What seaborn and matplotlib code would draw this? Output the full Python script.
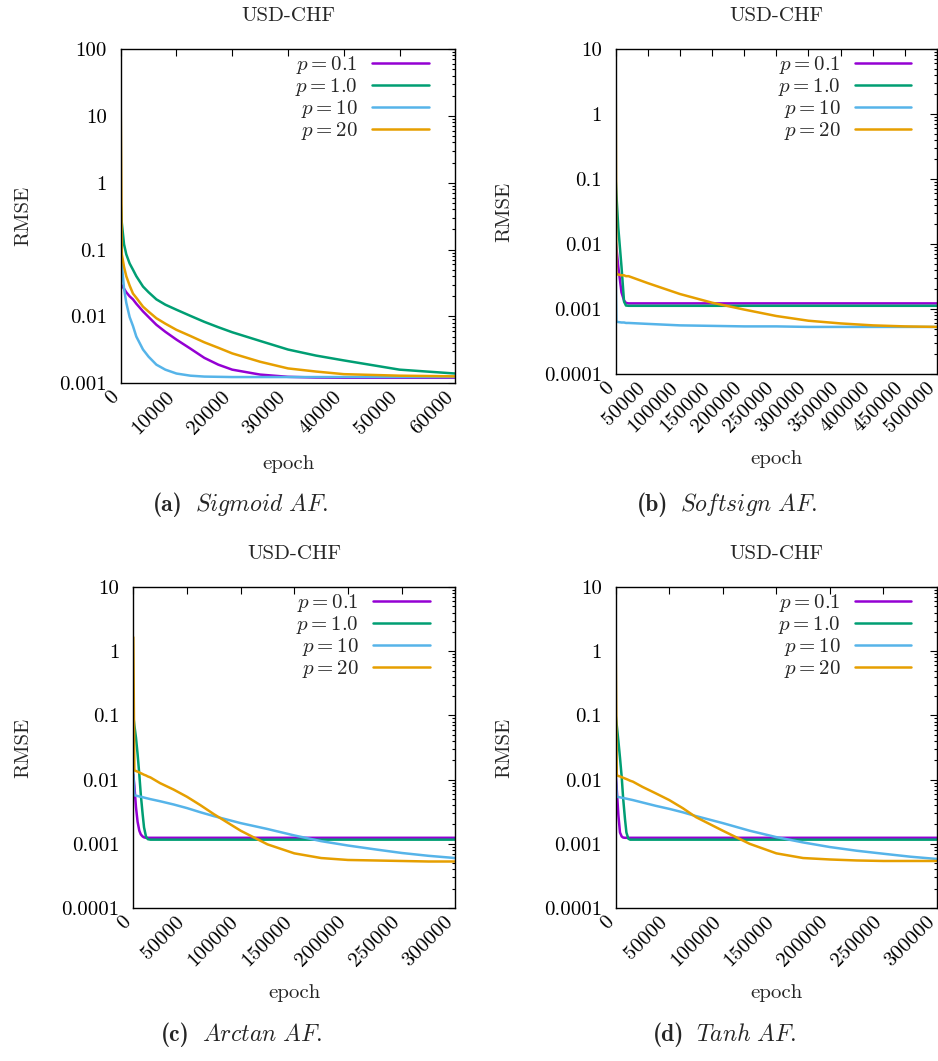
import numpy as np
import pandas as pd
import matplotlib
matplotlib.use('Agg')
import matplotlib.pyplot as plt
import matplotlib.transforms as mtransforms
import seaborn as sns
from matplotlib.ticker import LogLocator, NullFormatter

# legend labels and gnuplot colours
p_labels = [r'$p = 0.1$', r'$p = 1.0$', r'$p = 10$', r'$p = 20$']
colors = ['#9400D3', '#009E73', '#56B4E9', '#E69F00']

# (a) Sigmoid AF.
epochs_a = [0, 200, 600, 1000, 1600, 2200, 2800, 4000, 5000, 6400, 8000, 10000, 12500, 15000,
            17500, 20000, 25000, 30000, 35000, 40000, 50000, 60000]
rmse_a_p01 = [0.0297, 0.029, 0.026, 0.023, 0.020, 0.018, 0.0155, 0.0119, 0.0098, 0.0075, 0.0059,
              0.0045, 0.0033, 0.0024, 0.0019, 0.0016, 0.00135, 0.00125, 0.00122, 0.00121,
              0.00121, 0.00121]
rmse_a_p1 = [0.5, 0.25, 0.12, 0.085, 0.062, 0.05, 0.04, 0.028, 0.023, 0.018, 0.015,
             0.0126, 0.0102, 0.0083, 0.0069, 0.0058, 0.0043, 0.0032, 0.0026, 0.0022,
             0.0016, 0.0014]
rmse_a_p10 = [0.2, 0.06, 0.026, 0.016, 0.0098, 0.0072, 0.0050, 0.0032, 0.0025, 0.0019, 0.0016,
              0.0014, 0.0013, 0.00126, 0.00125, 0.00124, 0.00124, 0.00124, 0.00124, 0.00124,
              0.00124, 0.00124]
rmse_a_p20 = [16, 0.085, 0.055, 0.04, 0.029, 0.022, 0.019, 0.014, 0.0118, 0.0094, 0.0078,
              0.0063, 0.0051, 0.0041, 0.0034, 0.0028, 0.0021, 0.00167, 0.0015, 0.00137,
              0.0013, 0.00127]

# (b) Softsign AF.
epochs_b = [0, 1000, 4000, 9000, 13000, 16000, 20000, 50000, 100000, 150000, 200000,
            250000, 300000, 350000, 400000, 450000, 500000]
rmse_b_p01 = [0.011, 0.009, 0.0045, 0.0018, 0.00135, 0.00124, 0.00122, 0.00122, 0.00122, 0.00122,
              0.00122, 0.00122, 0.00122, 0.00122, 0.00122, 0.00122, 0.00122]
rmse_b_p1 = [0.097, 0.06, 0.018, 0.0045, 0.0013, 0.00113, 0.00112, 0.00112, 0.00112, 0.00112,
             0.00112, 0.00112, 0.00112, 0.00112, 0.00112, 0.00112, 0.00112]
rmse_b_p10 = [0.0035, 0.00064, 0.00063, 0.00062, 0.00062, 0.00061, 0.00061, 0.00059, 0.00056, 0.00055,
              0.00054, 0.00054, 0.00053, 0.00053, 0.00053, 0.00053, 0.00053]
rmse_b_p20 = [4.5, 0.0034, 0.0034, 0.0033, 0.0033, 0.0032, 0.0032, 0.0025, 0.0017, 0.00125,
              0.00098, 0.00078, 0.00066, 0.0006, 0.00056, 0.00054, 0.00053]

# (c) Arctan AF.
epochs_cd = [0, 1000, 2500, 4000, 5600, 7000, 8700, 10000, 11800, 13500, 16000, 25000, 37500,
             50000, 62500, 75000, 100000, 125000, 150000, 175000, 200000, 225000, 250000,
             275000, 300000]
rmse_c_p01 = [0.012, 0.008, 0.0037, 0.0022, 0.0016, 0.0014, 0.0013, 0.00126, 0.00124, 0.00124,
              0.00124, 0.00124, 0.00124, 0.00124, 0.00124, 0.00124, 0.00124, 0.00124, 0.00124,
              0.00124, 0.00124, 0.00124, 0.00124, 0.00124, 0.00124]
rmse_c_p1 = [0.1, 0.07, 0.045, 0.025, 0.012, 0.0058, 0.0029, 0.0018, 0.0013, 0.00118, 0.00116,
             0.00116, 0.00116, 0.00116, 0.00116, 0.00116, 0.00116, 0.00116, 0.00116, 0.00116,
             0.00116, 0.00116, 0.00116, 0.00116, 0.00116]
rmse_c_p10 = [0.013, 0.0057, 0.00562, 0.00555, 0.00547, 0.0054, 0.00532, 0.00525, 0.00516, 0.00508,
              0.00496, 0.0046, 0.0041, 0.0036, 0.0031, 0.0027, 0.0021, 0.0017, 0.00135, 0.0011,
              0.00094, 0.00082, 0.00072, 0.00065, 0.0006]
rmse_c_p20 = [1.65, 0.0139, 0.0136, 0.0133, 0.0129, 0.0126, 0.0122, 0.0119, 0.0116, 0.0112, 0.0108,
              0.0088, 0.0070, 0.0054, 0.0040, 0.0029, 0.0016, 0.00098, 0.00071, 0.0006, 0.00056,
              0.00055, 0.00054, 0.00053, 0.00053]

# (d) Tanh AF.
rmse_d_p01 = [0.012, 0.007, 0.0028, 0.0015, 0.0013, 0.00125, 0.00124, 0.00124, 0.00124, 0.00124,
              0.00124, 0.00124, 0.00124, 0.00124, 0.00124, 0.00124, 0.00124, 0.00124, 0.00124,
              0.00124, 0.00124, 0.00124, 0.00124, 0.00124, 0.00124]
rmse_d_p1 = [0.1, 0.07, 0.04, 0.022, 0.011, 0.005, 0.0024, 0.0015, 0.0012, 0.00116, 0.00116,
             0.00116, 0.00116, 0.00116, 0.00116, 0.00116, 0.00116, 0.00116, 0.00116, 0.00116,
             0.00116, 0.00116, 0.00116, 0.00116, 0.00116]
rmse_d_p10 = [0.012, 0.0054, 0.00535, 0.0053, 0.00522, 0.00516, 0.0051, 0.00505, 0.00497, 0.0049,
              0.0048, 0.0044, 0.0039, 0.0035, 0.0031, 0.0027, 0.0021, 0.0016, 0.00127, 0.00105,
              0.00089, 0.00078, 0.00070, 0.00063, 0.00058]
rmse_d_p20 = [1.2, 0.0116, 0.0114, 0.0112, 0.0109, 0.0107, 0.0104, 0.0102, 0.0099, 0.0096, 0.0093,
              0.0077, 0.0061, 0.0048, 0.0036, 0.0026, 0.0016, 0.001, 0.00071, 0.0006, 0.00057,
              0.00055, 0.00054, 0.00054, 0.00054]

ylabels_a = ['0.001', '0.01', '0.1', '1', '10', '100']
ylabels_bcd = ['0.0001', '0.001', '0.01', '0.1', '1', '10']
cap_tags = ['(a)', '(b)', '(c)', '(d)']
cap_names = [r'$\mathit{Sigmoid\ AF.}$', r'$\mathit{Softsign\ AF.}$',
             r'$\mathit{Arctan\ AF.}$', r'$\mathit{Tanh\ AF.}$']

sns.set_style('white')
plt.rcParams['font.family'] = 'cmr10'
plt.rcParams['mathtext.fontset'] = 'cm'
plt.rcParams['axes.unicode_minus'] = False
plt.rcParams['axes.formatter.use_mathtext'] = True
plt.rcParams['axes.edgecolor'] = 'black'

W, H = 938, 1061
fig = plt.figure(figsize=(W / 100, H / 100), dpi=100)
shift_left = mtransforms.ScaledTranslation(-5 / 100, 0, fig.dpi_scale_trans)


def px_axes(left, top, right, bottom):
    return fig.add_axes([left / W, 1 - bottom / H, (right - left) / W, (bottom - top) / H])


def panel(ax, epochs, series, xmax, xstep, ylabels, xlab_y, ylab_x):
    df = pd.DataFrame({
        'epoch': np.tile(epochs, len(series)),
        'RMSE': np.concatenate(series),
        'p': np.repeat(p_labels, len(epochs)),
    })
    sns.lineplot(data=df, x='epoch', y='RMSE', hue='p', hue_order=p_labels,
                 palette=colors, estimator=None, linewidth=1.8, legend=False, ax=ax)
    ax.set_yscale('log')
    ax.set_ylim(float(ylabels[0]), float(ylabels[-1]))
    ax.set_xlim(0, xmax)
    ax.set_yticks([float(v) for v in ylabels])
    ax.set_yticklabels(ylabels)
    ax.yaxis.set_minor_locator(LogLocator(base=10, subs=np.arange(2, 10)))
    ax.yaxis.set_minor_formatter(NullFormatter())
    xt = list(range(0, xmax + 1, xstep))
    ax.set_xticks(xt)
    ax.set_xticklabels([str(v) for v in xt])
    ax.tick_params(which='both', direction='in', top=True, right=True, width=0.8,
                   labelsize=15, colors='black')
    ax.tick_params(which='major', length=5)
    ax.tick_params(which='minor', length=2.5)
    ax.tick_params(axis='x', pad=8)
    ax.tick_params(axis='y', pad=10)
    for lab in ax.get_xticklabels():
        lab.set_rotation(45)
        lab.set_ha('right')
        lab.set_va('center')
        lab.set_rotation_mode('anchor')
        lab.set_transform(lab.get_transform() + shift_left)
    for s in ax.spines.values():
        s.set_linewidth(1.0)
        s.set_color('black')
    ax.set_title('USD-CHF', fontsize=15, pad=20)
    ax.set_xlabel('epoch', fontsize=15)
    ax.xaxis.set_label_coords(0.5, xlab_y)
    ax.set_ylabel('RMSE', fontsize=15)
    ax.yaxis.set_label_coords(ylab_x, 0.5)
    ax.legend(ax.get_lines(), p_labels, loc='upper right', bbox_to_anchor=(0.92, 0.985),
              borderaxespad=0, borderpad=0, frameon=False, markerfirst=False,
              handlelength=2.7, handletextpad=0.7, labelspacing=0.0, fontsize=15)


ax_a = px_axes(120.7, 49, 455.3, 383.3)
panel(ax_a, epochs_a, [rmse_a_p01, rmse_a_p1, rmse_a_p10, rmse_a_p20], 60000, 10000,
      ylabels_a, -0.215, -0.265)

ax_b = px_axes(615.7, 49, 937, 374)
panel(ax_b, epochs_b, [rmse_b_p01, rmse_b_p1, rmse_b_p10, rmse_b_p20], 500000, 50000,
      ylabels_bcd, -0.234, -0.32)

ax_c = px_axes(133.3, 587, 455.3, 908)
panel(ax_c, epochs_cd, [rmse_c_p01, rmse_c_p1, rmse_c_p10, rmse_c_p20], 300000, 50000,
      ylabels_bcd, -0.237, -0.315)

ax_d = px_axes(615.7, 587, 937, 908)
panel(ax_d, epochs_cd, [rmse_d_p01, rmse_d_p1, rmse_d_p10, rmse_d_p20], 300000, 50000,
      ylabels_bcd, -0.237, -0.32)

# captions: bold tag to the left of the split point, italic name to the right
cap_split = [(189, 505), (674, 505), (196, 1035), (690, 1035)]
for (sx, sy), tag, name in zip(cap_split, cap_tags, cap_names):
    fig.text((sx - 6) / W, 1 - sy / H, tag, ha='right', va='center', fontsize=17,
             family='cmb10')
    fig.text((sx + 6) / W, 1 - sy / H, name, ha='left', va='center', fontsize=17)

fig.savefig('out.png', dpi=100)
